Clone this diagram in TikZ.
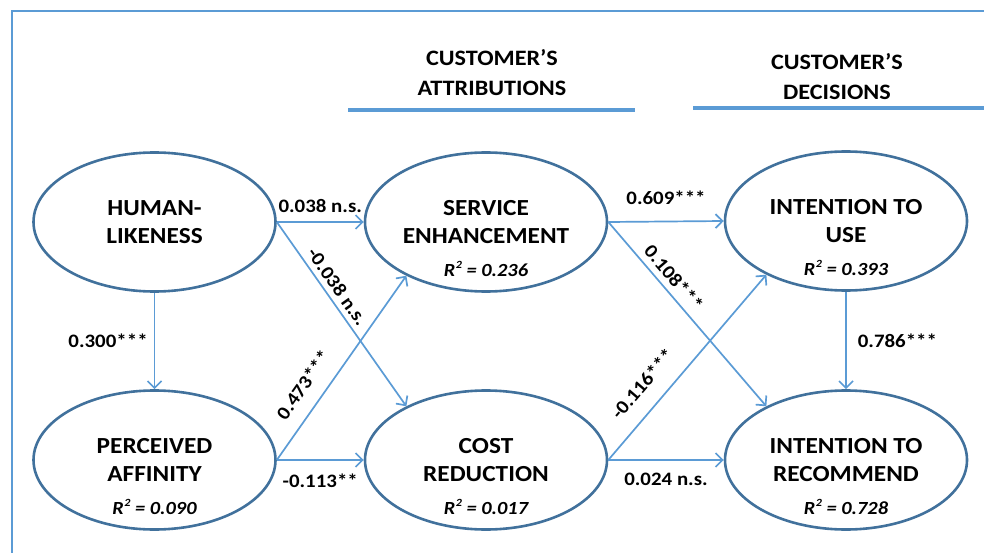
\documentclass[tikz,border=0pt]{standalone}
\usepackage{fontspec}
\setmainfont{Carlito}[FakeStretch=1.1]
\usetikzlibrary{arrows.meta,shapes.geometric}
\definecolor{ellblue}{HTML}{41719C}
\definecolor{arrblue}{HTML}{5B9BD5}
\newcommand{\rsqr}{R\kern0.5pt\raisebox{0.42em}{\fontsize{11}{11}\selectfont 2}}
\begin{document}
\begin{tikzpicture}[x=1pt,y=-1pt,
  latent/.style={ellipse, draw=ellblue, line width=2.6pt, minimum width=242pt, minimum height=139pt,
    inner sep=0pt, align=center, font=\fontsize{23}{28}\selectfont\bfseries},
  rsq/.style={font=\fontsize{18.5}{20}\selectfont\bfseries\itshape, inner sep=0pt},
  conn/.style={draw=arrblue, line width=1.7pt, -{Straight Barb[length=7pt,width=14pt]}},
  coef/.style={font=\fontsize{19}{21}\selectfont\bfseries, inner sep=1pt},
  head/.style={font=\fontsize{22}{30}\selectfont\bfseries, align=center},
  hrule/.style={draw=arrblue, line width=3.5pt},
  frame/.style={draw=arrblue, line width=2pt}
]
\useasboundingbox (0,0) rectangle (984,553);
% frame
\draw[frame] (12,553) -- (12,11) -- (984,11);
% headers
\node[head] (attr) at (492,73) {CUSTOMER’S\\ATTRIBUTIONS};
\node[head] (dec) at (837,77) {CUSTOMER’S\\DECISIONS};
\draw[hrule] (348,110) -- (635,110);
\draw[hrule] (693,108) -- (984,108);
% latent variables
\node[latent] (hl) at (154.5,222) {HUMAN-\\LIKENESS};
\node[latent] (pa) at (154.5,460) {PERCEIVED\\AFFINITY};
\node[latent] (se) at (486,222) {SERVICE\\ENHANCEMENT};
\node[latent] (cr) at (486,460) {COST\\REDUCTION};
\node[latent] (iu) at (846,221) {INTENTION TO\\USE};
\node[latent] (ir) at (846,460) {INTENTION TO\\RECOMMEND};
% R squared
\node[rsq, yshift=-47pt] (pa-r) at (pa.center) {\rsqr{} = 0.090};
\node[rsq, yshift=-47pt] (se-r) at (se.center) {\rsqr{} = 0.236};
\node[rsq, yshift=-47pt] (cr-r) at (cr.center) {\rsqr{} = 0.017};
\node[rsq, yshift=-47pt] (iu-r) at (iu.center) {\rsqr{} = 0.393};
\node[rsq, yshift=-47pt] (ir-r) at (ir.center) {\rsqr{} = 0.728};
% paths
\draw[conn] (hl.south) -- node[coef, left=5pt] {0.300***} (pa.north);
\draw[conn] (hl.east) -- node[coef, above=8pt] {0.038 n.s.} (se.west);
\draw[conn] (pa.east) -- node[coef, below=12pt] {-0.113**} (cr.west);
\draw[conn] (hl.east) -- node[coef, sloped, above=4pt, pos=0.39] {-0.038 n.s.} (cr.146);
\draw[conn] (pa.east) -- node[coef, sloped, above=13pt, pos=0.34] {0.473***} (se.214);
\draw[conn] (se.east) -- node[coef, above=15pt] {0.609***} (iu.west);
\draw[conn] (cr.east) -- node[coef, below=11pt] {0.024 n.s.} (ir.west);
\draw[conn] (se.east) -- node[coef, sloped, above=5pt, pos=0.35] {0.108***} (ir.146);
\draw[conn] (cr.east) -- node[coef, sloped, above=15pt, pos=0.33] {-0.116***} (iu.214);
\draw[conn] (iu.south) -- node[coef, right=10pt] {0.786***} (ir.north);
\end{tikzpicture}
\end{document}
